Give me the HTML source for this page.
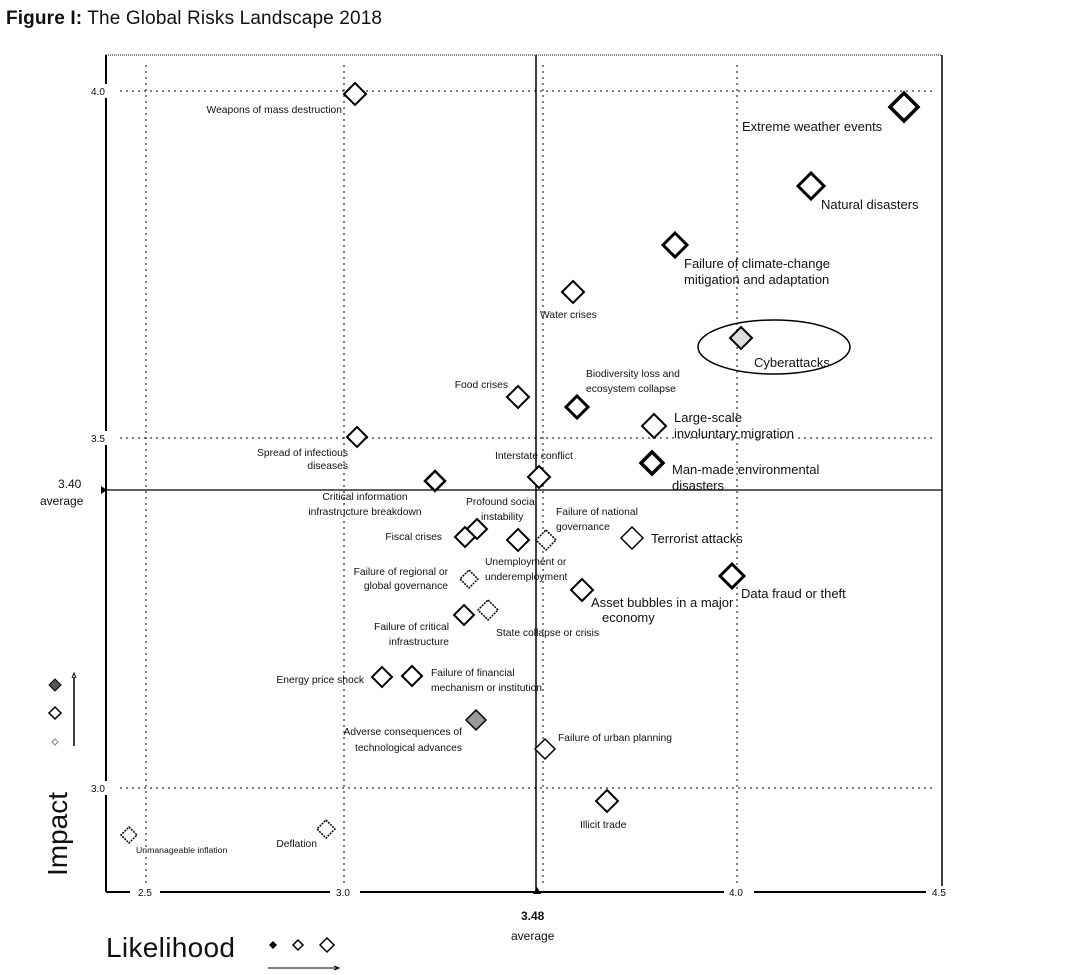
<!DOCTYPE html>
<html><head><meta charset="utf-8"><style>
html,body{margin:0;padding:0;background:#fff;width:1080px;height:975px;overflow:hidden}
svg{display:block}
text{font-family:"Liberation Sans",Arial,sans-serif;fill:#111}
.s{font-size:10.3px}.m{font-size:10px}.l{font-size:12px}
</style></head><body>
<svg width="1080" height="975" viewBox="0 0 1080 975" xmlns="http://www.w3.org/2000/svg">
<text x="6" y="24" style="font-size:19px" textLength="376"><tspan font-weight="bold">Figure I:</tspan> The Global Risks Landscape 2018</text>
<!-- frame -->
<line x1="106" y1="55" x2="942" y2="55" stroke="#000" stroke-width="1" stroke-dasharray="1,1"/>
<line x1="106" y1="55" x2="106" y2="892" stroke="#000" stroke-width="2"/>
<line x1="942" y1="55" x2="942" y2="892" stroke="#000" stroke-width="1.5"/>
<line x1="106" y1="892" x2="942" y2="892" stroke="#000" stroke-width="2"/>
<!-- grid -->
<g stroke="#000" stroke-width="1" stroke-dasharray="2,4">
<line x1="146" y1="65" x2="146" y2="885"/>
<line x1="344" y1="65" x2="344" y2="885"/>
<line x1="543" y1="65" x2="543" y2="885"/>
<line x1="737" y1="65" x2="737" y2="885"/>
<line x1="120" y1="91" x2="935" y2="91"/>
<line x1="120" y1="438" x2="935" y2="438"/>
<line x1="120" y1="788" x2="935" y2="788"/>
</g>
<line x1="536" y1="55" x2="536" y2="892" stroke="#000" stroke-width="1.5"/>
<line x1="106" y1="490" x2="942" y2="490" stroke="#000" stroke-width="1.2"/>
<!-- axis labels with white bg -->
<g fill="#fff"><rect x="88" y="84" width="20" height="14"/><rect x="88" y="431" width="20" height="14"/><rect x="88" y="781" width="20" height="14"/>
<rect x="130" y="886" width="30" height="14"/><rect x="330" y="886" width="30" height="14"/><rect x="724" y="886" width="30" height="14"/><rect x="926" y="886" width="30" height="14"/></g>
<g class="m"><text x="91" y="95">4.0</text><text x="91" y="442">3.5</text><text x="91" y="792">3.0</text>
<text x="138" y="896">2.5</text><text x="336" y="896">3.0</text><text x="729" y="896">4.0</text><text x="932" y="896">4.5</text></g>
<text x="58" y="488" class="l">3.40</text><text x="40" y="505" class="l">average</text>
<polygon points="101,486 107,490 101,494" fill="#000"/>
<polygon points="533,894 537,887 541,894" fill="#000"/>
<text x="521" y="920" class="l" font-weight="bold">3.48</text><text x="511" y="940" class="l">average</text>
<text transform="translate(67,876) rotate(-90)" style="font-size:28px">Impact</text>
<text x="106" y="957" style="font-size:28px" textLength="129">Likelihood</text>
<!-- legends -->
<polygon points="273,941 277,945 273,949 269,945" fill="#000"/>
<polygon points="298,940 303,945 298,950 293,945" fill="none" stroke="#000" stroke-width="1.5"/>
<polygon points="327,938 334,945 327,952 320,945" fill="none" stroke="#000" stroke-width="1.5"/>
<line x1="268" y1="968" x2="338" y2="968" stroke="#000"/><polyline points="334,966 339,968 334,970" fill="none" stroke="#000"/>
<polygon points="55,679 61,685 55,691 49,685" fill="#555" stroke="#000"/>
<polygon points="55,707 61,713 55,719 49,713" fill="none" stroke="#000" stroke-width="1.5"/>
<polygon points="55,739 58,742 55,745 52,742" fill="none" stroke="#888"/>
<line x1="74" y1="677" x2="74" y2="746" stroke="#000" stroke-width="1.5"/><polyline points="72,678 74,673 76,678" fill="none" stroke="#000"/>
<!-- ellipse -->
<ellipse cx="774" cy="347" rx="76" ry="27" fill="none" stroke="#000" stroke-width="1.5"/>
<!-- diamonds -->
<g fill="#fff" stroke="#000">
<polygon points="355,83 366,94 355,105 344,94" stroke-width="2"/>
<polygon points="904,93 918,107 904,121 890,107" stroke-width="3.5"/>
<polygon points="811,173 824,186 811,199 798,186" stroke-width="3"/>
<polygon points="675,233 687,245 675,257 663,245" stroke-width="3"/>
<polygon points="573,281 584,292 573,303 562,292" stroke-width="2"/>
<polygon points="741,327 752,338 741,349 730,338" stroke-width="2" fill="#ddd"/>
<polygon points="518,386 529,397 518,408 507,397" stroke-width="2"/>
<polygon points="577,396 588,407 577,418 566,407" stroke-width="3"/>
<polygon points="654,414 666,426 654,438 642,426" stroke-width="2"/>
<polygon points="357,427 367,437 357,447 347,437" stroke-width="2"/>
<polygon points="539,466 550,477 539,488 528,477" stroke-width="2"/>
<polygon points="652,452 663,463 652,474 641,463" stroke-width="3.5"/>
<polygon points="435,471 445,481 435,491 425,481" stroke-width="2.5"/>
<polygon points="477,519 487,529 477,539 467,529" stroke-width="2"/>
<polygon points="465,527 475,537 465,547 455,537" stroke-width="2"/>
<polygon points="518,529 529,540 518,551 507,540" stroke-width="2"/>
<polygon points="546,530 556,540 546,550 536,540" stroke-width="1.5" stroke-dasharray="2,1"/>
<polygon points="632,527 643,538 632,549 621,538" stroke-width="1.5"/>
<polygon points="469,570 478,579 469,588 460,579" stroke-width="1.5" stroke-dasharray="2,1"/>
<polygon points="732,564 744,576 732,588 720,576" stroke-width="3"/>
<polygon points="582,579 593,590 582,601 571,590" stroke-width="2"/>
<polygon points="464,605 474,615 464,625 454,615" stroke-width="2"/>
<polygon points="488,600 498,610 488,620 478,610" stroke-width="1.5" stroke-dasharray="2,1"/>
<polygon points="382,667 392,677 382,687 372,677" stroke-width="2"/>
<polygon points="412,666 422,676 412,686 402,676" stroke-width="2"/>
<polygon points="476,710 486,720 476,730 466,720" stroke-width="1.5" fill="#999"/>
<polygon points="545,739 555,749 545,759 535,749" stroke-width="1.5"/>
<polygon points="607,790 618,801 607,812 596,801" stroke-width="2"/>
<polygon points="326,820 335,829 326,838 317,829" stroke-width="1.5" stroke-dasharray="2,1"/>
<polygon points="129,827 137,835 129,843 121,835" stroke-width="1.5" stroke-dasharray="2,1"/>
</g>
<!-- labels -->
<g class="s">
<text x="342" y="113" text-anchor="end">Weapons of mass destruction</text>
<text x="540" y="318">Water crises</text>
<text x="508" y="388" text-anchor="end">Food crises</text>
<text x="586" y="377">Biodiversity loss and</text><text x="586" y="392">ecosystem collapse</text>
<text x="348" y="456" text-anchor="end">Spread of infectious</text><text x="348" y="469" text-anchor="end">diseases</text>
<text x="495" y="459">Interstate conflict</text>
<text x="365" y="500" text-anchor="middle">Critical information</text><text x="365" y="515" text-anchor="middle">infrastructure breakdown</text>
<text x="466" y="505">Profound social</text><text x="481" y="520">instability</text>
<text x="556" y="515">Failure of national</text><text x="556" y="530">governance</text>
<text x="442" y="540" text-anchor="end">Fiscal crises</text>
<text x="485" y="565">Unemployment or</text><text x="485" y="580">underemployment</text>
<text x="448" y="575" text-anchor="end">Failure of regional or</text><text x="448" y="589" text-anchor="end">global governance</text>
<text x="449" y="630" text-anchor="end">Failure of critical</text><text x="449" y="645" text-anchor="end">infrastructure</text>
<text x="496" y="636">State collapse or crisis</text>
<text x="364" y="683" text-anchor="end">Energy price shock</text>
<text x="431" y="676">Failure of financial</text><text x="431" y="691">mechanism or institution</text>
<text x="462" y="735" text-anchor="end">Adverse consequences of</text><text x="462" y="751" text-anchor="end">technological advances</text>
<text x="558" y="741">Failure of urban planning</text>
<text x="580" y="828">Illicit trade</text>
<text x="317" y="847" text-anchor="end">Deflation</text>
<text x="136" y="853" style="font-size:8.7px">Unmanageable inflation</text>
</g>
<g style="font-size:13px">
<text x="742" y="131">Extreme weather events</text>
<text x="821" y="209">Natural disasters</text>
<text x="684" y="268">Failure of climate-change</text><text x="684" y="284">mitigation and adaptation</text>
<text x="754" y="367">Cyberattacks</text>
<text x="674" y="422">Large-scale</text><text x="674" y="438">involuntary migration</text>
<text x="672" y="474">Man-made environmental</text><text x="672" y="490">disasters</text>
<text x="651" y="543">Terrorist attacks</text>
<text x="741" y="598">Data fraud or theft</text>
<text x="591" y="607">Asset bubbles in a major</text><text x="602" y="622">economy</text>
</g>
</svg>
</body></html>
